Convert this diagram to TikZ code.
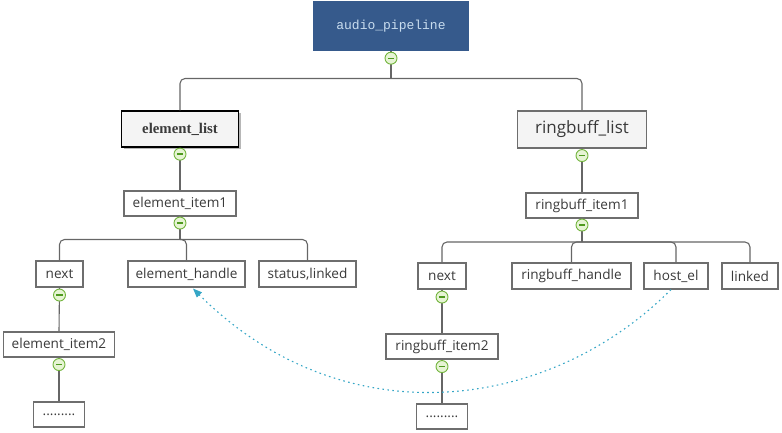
\documentclass[tikz,border=0pt]{standalone}
\usepackage{fontspec}
\setmainfont{Open Sans}
\newfontfamily\monof{Liberation Mono}
\newfontfamily\seriff{Liberation Serif}
\usetikzlibrary{arrows.meta,shadows,calc}
\definecolor{rootfill}{HTML}{365A8C}
\definecolor{roottext}{HTML}{C9DDEF}
\definecolor{edge}{HTML}{666666}
\definecolor{boxline}{HTML}{6E6E6E}
\definecolor{txt}{HTML}{3A3A3A}
\definecolor{listfill}{HTML}{F4F4F4}
\definecolor{cring}{HTML}{72B43C}
\definecolor{cfill}{HTML}{E6F4D4}
\definecolor{cminus}{HTML}{4E9A1E}
\definecolor{linkc}{HTML}{35A6C6}
\begin{document}
\begin{tikzpicture}[x=1pt,y=-1pt,
  box/.style={draw=boxline, line width=1.1pt, fill=white, inner sep=0pt, text=txt,
    font=\fontsize{13.6}{15}\selectfont, minimum height=25pt},
  rootbox/.style={fill=rootfill, inner sep=0pt, text=roottext,
    font=\monof\fontsize{13}{15}\selectfont, minimum width=156pt, minimum height=50pt},
  elistbox/.style={draw=black, line width=1.3pt, fill=listfill, inner sep=0pt, text=txt,
    font=\seriff\bfseries\fontsize{14.8}{16}\selectfont, minimum width=117pt, minimum height=36pt,
    drop shadow={shadow xshift=2pt, shadow yshift=-2pt, fill=black!40, opacity=0.7}},
  rlistbox/.style={draw=boxline, line width=1.1pt, fill=listfill, inner sep=0pt, text=txt,
    font=\fontsize{17}{19}\selectfont, minimum width=129pt, minimum height=37pt},
  conn/.style={draw=edge, line width=1.1pt},
  bus/.style={conn, rounded corners=5pt},
  collapse/.style={circle, draw=cring, line width=0.9pt, fill=cfill, minimum size=12pt, inner sep=0pt,
    path picture={\draw[cminus, line width=1.3pt] ([xshift=-3.2pt]path picture bounding box.center) -- ([xshift=3.2pt]path picture bounding box.center);}},
  linkline/.style={draw=linkc, line width=1.1pt, dash pattern=on 1.6pt off 3.4pt,
    -{Triangle[length=9pt,width=7pt]}}
]
\useasboundingbox (0,0) rectangle (782,433);

% nodes
\node[rootbox] (root) at (391,26) {audio\_pipeline};
\node[elistbox] (elist) at (180,129) {element\_list};
\node[rlistbox] (rlist) at (582,129.5) {ringbuff\_list};
\node[box, minimum width=112pt] (eitem1) at (180,203.5) {element\_item1};
\node[box, minimum width=112pt] (ritem1) at (582,205.5) {ringbuff\_item1};
\node[box, minimum width=47pt, minimum height=26pt] (enext) at (59.5,274) {next};
\node[box, minimum width=117pt, minimum height=26pt] (ehandle) at (186.5,274) {element\_handle};
\node[box, minimum width=97pt, minimum height=26pt] (estatus) at (307.5,274) {status,linked};
\node[box, minimum width=48pt, minimum height=26pt] (rnext) at (442,276) {next};
\node[box, minimum width=119pt, minimum height=26pt] (rhandle) at (571.5,276) {ringbuff\_handle};
\node[box, minimum width=64pt, minimum height=26pt] (host) at (676,276) {host\_el};
\node[box, minimum width=56pt, minimum height=26pt] (linked) at (750,276) {linked};
\node[box, minimum width=111pt] (eitem2) at (59,344.5) {element\_item2};
\node[box, minimum width=51pt] (edots) at (59,414.5) {.........};
\node[box, minimum width=112pt] (ritem2) at (442,346.5) {ringbuff\_item2};
\node[box, minimum width=51pt] (rdots) at (442,416.5) {.........};

% bus points
\coordinate (b1) at (391,78.5);
\coordinate (b2) at (180,239.5);
\coordinate (b3) at (582,242);

% connectors
\draw[conn] (root.south) -- (b1);
\draw[bus] (elist.north) |- (b1) -| (rlist.north);
\draw[conn] (elist.south) -- (eitem1.north);
\draw[conn] (rlist.south) -- (ritem1.north);
\draw[conn] (eitem1.south) -- (b2);
\draw[bus] (enext.north) |- (b2) -| (estatus.north);
\draw[bus] (b2) -| (ehandle.north);
\draw[conn] (ritem1.south) -- (b3);
\draw[bus] (rnext.north) |- (b3) -| (linked.north);
\draw[bus] (b3) -| (rhandle.north);
\draw[bus] (b3) -| (host.north);
\draw[conn] (enext.south) -- (eitem2.north);
\draw[conn] (eitem2.south) -- (edots.north);
\draw[conn] (rnext.south) -- (ritem2.north);
\draw[conn] (ritem2.south) -- (rdots.north);

% collapse markers
\node[collapse] (c1) at ($(root.south)+(0,7)$) {};
\node[collapse] (c2) at ($(elist.south)+(0,6.5)$) {};
\node[collapse] (c3) at ($(rlist.south)+(0,7)$) {};
\node[collapse] (c4) at ($(eitem1.south)+(0,6.5)$) {};
\node[collapse] (c5) at ($(ritem1.south)+(0,6.5)$) {};
\node[collapse] (c6) at ($(enext.south)+(0,7.5)$) {};
\node[collapse] (c7) at ($(rnext.south)+(0,7.5)$) {};
\node[collapse] (c8) at ($(eitem2.south)+(0,7)$) {};
\node[collapse] (c9) at ($(ritem2.south)+(0,7)$) {};

% cross link
\draw[linkline] ([xshift=-5pt]host.south) .. controls (549,412) and (344,439) .. ([xshift=6.5pt,yshift=-1pt]ehandle.south);
\end{tikzpicture}
\end{document}
